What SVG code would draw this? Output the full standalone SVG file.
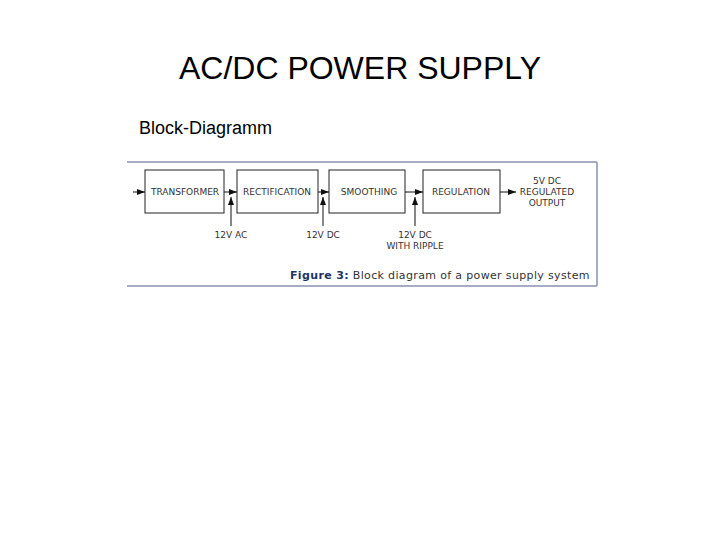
<svg xmlns="http://www.w3.org/2000/svg" width="720" height="540" viewBox="0 0 720 540">
<defs>
<marker id="ah" markerWidth="8" markerHeight="6" refX="8" refY="3" orient="auto" markerUnits="userSpaceOnUse"><path d="M0,0 L8,3 L0,6 Z" fill="#111"/></marker>
<style>
.b{fill:#fff;stroke:#222;stroke-width:1}
.t{font-family:"DejaVu Sans",sans-serif;font-size:9px;fill:#333;text-anchor:middle}
.c{stroke:#111;stroke-width:1;fill:none;marker-end:url(#ah)}
</style>
</defs>
<rect width="720" height="540" fill="#fff"/>
<text x="360" y="79" font-family="Liberation Sans, Arial, sans-serif" font-size="32" text-anchor="middle" fill="#000">AC/DC POWER SUPPLY</text>
<text x="139" y="134" font-family="Liberation Sans, Arial, sans-serif" font-size="18" fill="#000">Block-Diagramm</text>
<g id="frame" fill="none" stroke="#8890b0" stroke-width="1.5">
<line x1="127" y1="162" x2="597" y2="162"/><line x1="127" y1="286" x2="597" y2="286"/><line x1="597" y1="162" x2="597" y2="286"/>
</g>
<g id="transformer"><rect class="b" x="145" y="170" width="79" height="43"/><text class="t" x="185" y="195">TRANSFORMER</text></g>
<g id="rectification"><rect class="b" x="237" y="170" width="81" height="43"/><text class="t" x="277" y="195">RECTIFICATION</text></g>
<g id="smoothing"><rect class="b" x="329" y="170" width="76" height="43"/><text class="t" x="369" y="195">SMOOTHING</text></g>
<g id="regulation"><rect class="b" x="423" y="170" width="77" height="43"/><text class="t" x="461" y="195">REGULATION</text></g>
<g id="output"><text class="t" x="547" y="184">5V DC</text><text class="t" x="547" y="195">REGULATED</text><text class="t" x="547" y="206">OUTPUT</text></g>
<g id="labels">
<text class="t" x="231" y="238">12V AC</text>
<text class="t" x="323" y="238">12V DC</text>
<text class="t" x="415" y="238">12V DC</text><text class="t" x="415" y="249">WITH RIPPLE</text>
</g>
<g id="connectors">
<line class="c" x1="133" y1="192" x2="145" y2="192"/>
<line class="c" x1="224" y1="192" x2="237" y2="192"/>
<line class="c" x1="318" y1="192" x2="329" y2="192"/>
<line class="c" x1="405" y1="192" x2="423" y2="192"/>
<line class="c" x1="500" y1="192" x2="516" y2="192"/>
<line class="c" x1="231" y1="226" x2="231" y2="197"/>
<line class="c" x1="323" y1="226" x2="323" y2="197"/>
<line class="c" x1="415" y1="226" x2="415" y2="197"/>
</g>
<text x="290" y="279" font-family="DejaVu Sans, sans-serif" font-size="11" letter-spacing="0.35" fill="#333"><tspan font-weight="bold" fill="#223366">Figure 3:</tspan> Block diagram of a power supply system</text>
</svg>
